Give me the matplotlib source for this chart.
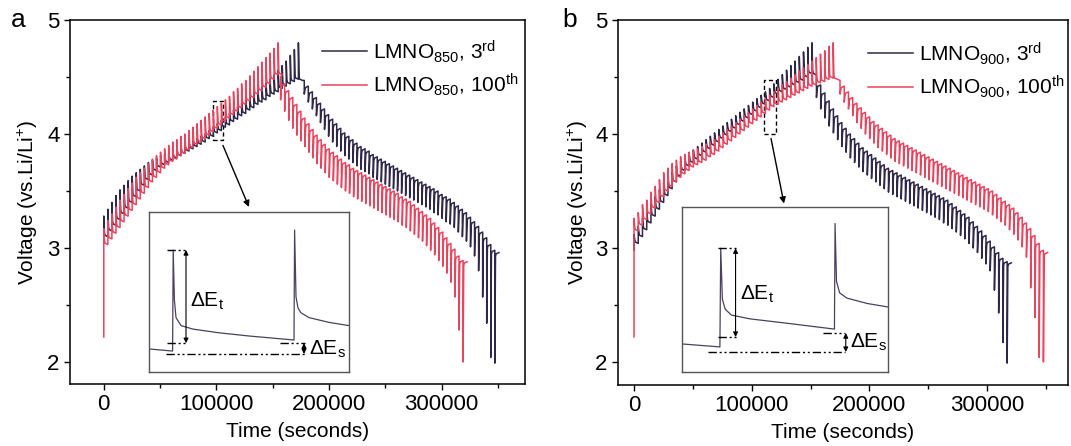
import matplotlib
matplotlib.use('Agg')
import matplotlib.pyplot as plt
from matplotlib.ticker import MultipleLocator
from matplotlib.patches import Rectangle
from matplotlib.lines import Line2D

plt.rcParams['font.family'] = ['Liberation Sans', 'DejaVu Sans']
plt.rcParams['mathtext.fontset'] = 'custom'
plt.rcParams['mathtext.rm'] = 'Liberation Sans'
plt.rcParams['mathtext.it'] = 'Liberation Sans:italic'
plt.rcParams['mathtext.bf'] = 'Liberation Sans:bold'

# ---------------- data ----------------
PERIOD = 3600      # s between GITT pulses
PULSE = 600        # s current pulse

# Panel a : LMNO850, 3rd cycle
a3_ch_start = 0
a3_ch_base = [3.05, 3.10, 3.15, 3.20, 3.25, 3.30, 3.35, 3.40, 3.45, 3.50, 3.55, 3.60, 3.64, 3.68, 3.71, 3.73,
              3.75, 3.77, 3.79, 3.81, 3.83, 3.85, 3.87, 3.89, 3.91, 3.93, 3.96, 3.98, 4.01, 4.03, 4.06, 4.08,
              4.11, 4.13, 4.16, 4.18, 4.21, 4.23, 4.26, 4.28, 4.30, 4.33, 4.35, 4.37, 4.40, 4.42, 4.44, 4.46, 4.48]
a3_ch_peak = [3.28, 3.34, 3.40, 3.46, 3.51, 3.55, 3.59, 3.63, 3.66, 3.69, 3.72, 3.75, 3.77, 3.79, 3.81, 3.82,
              3.83, 3.85, 3.86, 3.88, 3.90, 3.92, 3.94, 3.96, 3.98, 4.00, 4.03, 4.06, 4.09, 4.12, 4.15, 4.18,
              4.21, 4.24, 4.27, 4.30, 4.33, 4.36, 4.39, 4.42, 4.45, 4.48, 4.52, 4.56, 4.60, 4.64, 4.69, 4.74, 4.80]
a3_ch_end = 4.47
a3_dc_start = 178000
a3_dc_base = [4.47, 4.42, 4.37, 4.32, 4.27, 4.22, 4.17, 4.13, 4.09, 4.05, 4.01, 3.98, 3.95, 3.92, 3.89, 3.87,
              3.85, 3.82, 3.80, 3.78, 3.76, 3.74, 3.72, 3.70, 3.68, 3.66, 3.64, 3.62, 3.60, 3.58, 3.56, 3.54,
              3.52, 3.50, 3.47, 3.45, 3.43, 3.40, 3.37, 3.34, 3.31, 3.27, 3.23, 3.19, 3.14, 3.09, 3.03, 2.98]
a3_dc_dip = [4.35, 4.28, 4.22, 4.16, 4.10, 4.04, 3.98, 3.93, 3.89, 3.85, 3.81, 3.78, 3.75, 3.72, 3.69, 3.67,
             3.65, 3.62, 3.60, 3.58, 3.56, 3.54, 3.52, 3.50, 3.48, 3.46, 3.44, 3.42, 3.40, 3.38, 3.36, 3.34,
             3.31, 3.29, 3.26, 3.23, 3.21, 3.18, 3.14, 3.10, 3.06, 3.01, 2.93, 2.80, 2.57, 2.34, 2.04, 1.99]
a3_dc_end = 2.96

# Panel a : LMNO850, 100th cycle
a100_v0 = 2.22
a100_ch_start = 0
a100_ch_base = [2.98, 3.03, 3.08, 3.13, 3.18, 3.23, 3.28, 3.33, 3.38, 3.43, 3.48, 3.53, 3.58, 3.62, 3.66, 3.70,
                3.73, 3.76, 3.78, 3.81, 3.83, 3.86, 3.88, 3.91, 3.93, 3.96, 3.99, 4.02, 4.05, 4.08, 4.11, 4.14,
                4.17, 4.20, 4.23, 4.26, 4.29, 4.32, 4.35, 4.38, 4.41, 4.44, 4.48, 4.52]
a100_ch_peak = [3.17, 3.24, 3.30, 3.36, 3.42, 3.47, 3.52, 3.57, 3.62, 3.66, 3.70, 3.74, 3.78, 3.81, 3.84, 3.87,
                3.90, 3.93, 3.95, 3.98, 4.00, 4.03, 4.06, 4.09, 4.12, 4.15, 4.18, 4.21, 4.24, 4.27, 4.30, 4.33,
                4.37, 4.40, 4.44, 4.47, 4.51, 4.55, 4.59, 4.63, 4.67, 4.71, 4.75, 4.80]
a100_ch_end = 4.52
a100_dc_start = 157000
a100_dc_base = [4.50, 4.44, 4.38, 4.32, 4.26, 4.20, 4.14, 4.09, 4.04, 3.99, 3.95, 3.91, 3.87, 3.84, 3.81, 3.78,
                3.75, 3.73, 3.70, 3.68, 3.66, 3.64, 3.62, 3.60, 3.58, 3.56, 3.54, 3.52, 3.50, 3.48, 3.45, 3.43,
                3.41, 3.38, 3.35, 3.32, 3.29, 3.26, 3.22, 3.18, 3.14, 3.09, 3.04, 2.99, 2.93, 2.89]
a100_dc_dip = [4.30, 4.20, 4.12, 4.05, 3.99, 3.94, 3.89, 3.84, 3.79, 3.74, 3.70, 3.66, 3.62, 3.59, 3.56, 3.53,
               3.50, 3.48, 3.45, 3.43, 3.41, 3.39, 3.37, 3.35, 3.33, 3.31, 3.29, 3.27, 3.25, 3.23, 3.20, 3.18,
               3.15, 3.12, 3.09, 3.06, 3.02, 2.98, 2.94, 2.89, 2.84, 2.78, 2.70, 2.57, 2.28, 2.00]
a100_dc_end = 2.88

# Panel b : LMNO900, 3rd cycle
b3_ch_start = 0
b3_ch_base = [2.98, 3.04, 3.10, 3.16, 3.22, 3.28, 3.34, 3.40, 3.46, 3.52, 3.58, 3.63, 3.68, 3.72, 3.75, 3.78,
              3.81, 3.84, 3.87, 3.90, 3.93, 3.96, 3.99, 4.02, 4.05, 4.08, 4.11, 4.14, 4.17, 4.20, 4.23, 4.26,
              4.29, 4.32, 4.35, 4.37, 4.39, 4.41, 4.43, 4.45, 4.47, 4.50, 4.53]
b3_ch_peak = [3.12, 3.19, 3.26, 3.33, 3.39, 3.45, 3.51, 3.57, 3.62, 3.67, 3.72, 3.76, 3.80, 3.83, 3.86, 3.89,
              3.92, 3.95, 3.98, 4.01, 4.04, 4.07, 4.10, 4.13, 4.16, 4.19, 4.22, 4.25, 4.28, 4.31, 4.34, 4.37,
              4.40, 4.44, 4.48, 4.52, 4.56, 4.60, 4.64, 4.68, 4.72, 4.76, 4.80]
b3_ch_end = 4.52
b3_dc_start = 155000
b3_dc_base = [4.50, 4.43, 4.36, 4.29, 4.22, 4.16, 4.10, 4.05, 4.00, 3.96, 3.92, 3.88, 3.85, 3.82, 3.79, 3.76,
              3.73, 3.70, 3.68, 3.66, 3.64, 3.62, 3.60, 3.58, 3.56, 3.54, 3.52, 3.50, 3.48, 3.46, 3.44, 3.42,
              3.39, 3.36, 3.33, 3.30, 3.27, 3.23, 3.19, 3.15, 3.11, 3.06, 3.01, 2.96, 2.91, 2.88]
b3_dc_dip = [4.32, 4.22, 4.14, 4.07, 4.01, 3.95, 3.89, 3.84, 3.79, 3.75, 3.71, 3.67, 3.64, 3.61, 3.58, 3.55,
             3.52, 3.49, 3.47, 3.45, 3.43, 3.41, 3.39, 3.37, 3.35, 3.33, 3.31, 3.29, 3.27, 3.25, 3.22, 3.20,
             3.17, 3.14, 3.11, 3.08, 3.04, 3.00, 2.96, 2.91, 2.86, 2.80, 2.63, 2.43, 2.17, 1.99]
b3_dc_end = 2.87

# Panel b : LMNO900, 100th cycle
b100_v0 = 2.22
b100_ch_start = 0
b100_ch_base = [3.10, 3.15, 3.20, 3.25, 3.30, 3.35, 3.40, 3.45, 3.50, 3.54, 3.58, 3.62, 3.65, 3.68, 3.71, 3.73,
                3.75, 3.77, 3.80, 3.82, 3.85, 3.88, 3.91, 3.94, 3.97, 4.00, 4.03, 4.06, 4.09, 4.12, 4.15, 4.18,
                4.21, 4.24, 4.26, 4.28, 4.30, 4.32, 4.34, 4.36, 4.38, 4.40, 4.42, 4.43, 4.45, 4.46, 4.48, 4.49]
b100_ch_peak = [3.26, 3.31, 3.38, 3.42, 3.49, 3.54, 3.60, 3.66, 3.70, 3.74, 3.77, 3.80, 3.82, 3.84, 3.86, 3.87,
                3.89, 3.91, 3.93, 3.95, 3.98, 4.01, 4.04, 4.07, 4.10, 4.13, 4.16, 4.19, 4.22, 4.25, 4.28, 4.31,
                4.34, 4.37, 4.40, 4.43, 4.46, 4.49, 4.52, 4.55, 4.58, 4.61, 4.64, 4.67, 4.70, 4.73, 4.77, 4.80]
b100_ch_end = 4.48
b100_dc_start = 175000
b100_dc_base = [4.47, 4.42, 4.37, 4.32, 4.27, 4.23, 4.19, 4.15, 4.11, 4.08, 4.05, 4.02, 3.99, 3.96, 3.94, 3.92,
                3.90, 3.88, 3.86, 3.84, 3.82, 3.80, 3.78, 3.76, 3.74, 3.72, 3.70, 3.68, 3.66, 3.64, 3.62, 3.60,
                3.58, 3.56, 3.54, 3.52, 3.50, 3.47, 3.44, 3.41, 3.38, 3.35, 3.31, 3.27, 3.22, 3.17, 3.11, 3.04, 2.98]
b100_dc_dip = [4.35, 4.28, 4.22, 4.16, 4.10, 4.05, 4.00, 3.96, 3.92, 3.88, 3.85, 3.82, 3.79, 3.76, 3.74, 3.72,
               3.70, 3.68, 3.66, 3.64, 3.62, 3.60, 3.58, 3.56, 3.54, 3.52, 3.50, 3.48, 3.46, 3.44, 3.42, 3.40,
               3.38, 3.36, 3.34, 3.32, 3.29, 3.26, 3.23, 3.20, 3.16, 3.12, 3.07, 3.01, 2.92, 2.65, 2.39, 2.04, 2.00]
b100_dc_end = 2.96

# Inset schematic traces (normalised inset units)
inset_a_u = [0.00, 0.118, 0.121, 0.127, 0.135, 0.16, 0.22, 0.35, 0.50, 0.725, 0.728, 0.735, 0.745, 0.76, 0.80, 0.90, 1.00]
inset_a_v = [0.144, 0.131, 0.7625, 0.45, 0.34, 0.29, 0.268, 0.245, 0.225, 0.20, 0.8875, 0.47, 0.40, 0.37, 0.34, 0.31, 0.29]
inset_b_u = [0.00, 0.184, 0.188, 0.196, 0.21, 0.24, 0.33, 0.50, 0.74, 0.743, 0.75, 0.765, 0.80, 0.90, 1.00]
inset_b_v = [0.17, 0.152, 0.75, 0.44, 0.38, 0.345, 0.322, 0.297, 0.26, 0.90, 0.55, 0.48, 0.448, 0.415, 0.394]

labels_a = [r'LMNO$_{850}$, 3$^{\mathrm{rd}}$', r'LMNO$_{850}$, 100$^{\mathrm{th}}$']
labels_b = [r'LMNO$_{900}$, 3$^{\mathrm{rd}}$', r'LMNO$_{900}$, 100$^{\mathrm{th}}$']

C_DARK = '#2f2747'
C_RED = '#e8445e'
C_INSET = '#4a4060'


def gitt(ch_start, ch_base, ch_peak, ch_end, dc_start, dc_base, dc_dip, dc_end, v0=None):
    t, v = [], []
    if v0 is not None:
        t.append(ch_start)
        v.append(v0)
    for start, base, ext, end, sgn in ((ch_start, ch_base, ch_peak, ch_end, 1),
                                       (dc_start, dc_base, dc_dip, dc_end, -1)):
        n = min(len(base), len(ext))
        for k in range(n):
            tk = start + k * PERIOD
            nxt = base[k + 1] if k + 1 < n else end
            t += [tk, tk, tk + PULSE, tk + PULSE + 500, tk + PERIOD - 1]
            v += [base[k], ext[k], nxt + sgn * 0.035, nxt + sgn * 0.012, nxt]
    return t, v


fig = plt.figure(figsize=(10.71, 4.46), dpi=100)

FS = 15
TFS = 16


def style_axes(ax, xlim, ylim):
    ax.set_xlim(*xlim)
    ax.set_ylim(*ylim)
    ax.xaxis.set_major_locator(MultipleLocator(100000))
    ax.xaxis.set_minor_locator(MultipleLocator(50000))
    ax.yaxis.set_major_locator(MultipleLocator(1))
    ax.yaxis.set_minor_locator(MultipleLocator(0.5))
    ax.ticklabel_format(axis='x', style='plain', useOffset=False)
    ax.tick_params(which='major', direction='out', length=4.5, width=1.0, labelsize=TFS, pad=3)
    ax.tick_params(which='minor', direction='out', length=2.6, width=1.0)
    for s in ax.spines.values():
        s.set_linewidth(1.1)
    ax.set_xlabel('Time (seconds)', fontsize=FS)
    ax.set_ylabel(r'Voltage (vs.Li/Li$^{+}$)', fontsize=FS)


def draw_inset(rect, u, v, ann):
    ins = fig.add_axes(rect)
    ins.set_xlim(0, 1)
    ins.set_ylim(0, 1)
    ins.set_xticks([])
    ins.set_yticks([])
    for s in ins.spines.values():
        s.set_color('#555555')
        s.set_linewidth(1.0)
    ins.plot(u, v, color=C_INSET, lw=0.9)
    dd = (0, (6, 2, 1.5, 2, 1.5, 2))
    (tu0, tu1, tv), (lu0, lu1, lv), tx, (ru0, ru1, rv), (gu0, gu1, gv), sx, et, es = ann
    ins.plot([tu0, tu1], [tv, tv], color='black', lw=1.0, ls=dd)
    ins.plot([lu0, lu1], [lv, lv], color='black', lw=1.0, ls=dd)
    ins.plot([ru0, ru1], [rv, rv], color='black', lw=1.0, ls=dd)
    ins.plot([gu0, gu1], [gv, gv], color='black', lw=1.0, ls=dd)
    ap = dict(arrowstyle='<|-|>', lw=0.8, color='black', mutation_scale=7, shrinkA=0, shrinkB=0)
    ins.annotate('', xy=(tx, tv), xytext=(tx, lv), arrowprops=ap)
    ins.annotate('', xy=(sx, rv), xytext=(sx, gv), arrowprops=ap)
    ins.text(et[0], et[1], r'ΔE$_{\mathrm{t}}$', fontsize=FS, ha='left', va='center')
    ins.text(es[0], es[1], r'ΔE$_{\mathrm{s}}$', fontsize=FS, ha='left', va='center')
    return ins


# ---------- panel a ----------
axa = fig.add_axes([70 / 1071, 1 - 384 / 446, 455 / 1071, 364 / 446])
t, v = gitt(a3_ch_start, a3_ch_base, a3_ch_peak, a3_ch_end, a3_dc_start, a3_dc_base, a3_dc_dip, a3_dc_end)
axa.plot(t, v, color=C_DARK, lw=1.1)
t, v = gitt(a100_ch_start, a100_ch_base, a100_ch_peak, a100_ch_end, a100_dc_start, a100_dc_base,
            a100_dc_dip, a100_dc_end, v0=a100_v0)
axa.plot(t, v, color=C_RED, lw=1.1)
style_axes(axa, (-30000, 374000), (1.807, 5.0))
axa.yaxis.set_label_coords(-0.066, 0.5)
axa.xaxis.set_label_coords(0.5, -0.105)
axa.add_patch(Rectangle((96900, 3.95), 8900, 0.34, fill=False, ec='black', lw=1.0, ls=(0, (3, 2))))
axa.annotate('', xy=(128900, 3.36), xytext=(105800, 3.90),
             arrowprops=dict(arrowstyle='-|>', lw=1.0, color='black', mutation_scale=9, shrinkA=0, shrinkB=0))
h = [Line2D([], [], color=C_DARK, lw=1.1), Line2D([], [], color=C_RED, lw=1.1)]
axa.legend(h, labels_a, loc='upper left', bbox_to_anchor=(322 / 1071, 1 - 38 / 446),
           bbox_transform=fig.transFigure, frameon=False, fontsize=FS, handlelength=2.15,
           handletextpad=0.3, labelspacing=0.35, borderpad=0, borderaxespad=0)
draw_inset([149 / 1071, 1 - 372 / 446, 200 / 1071, 160 / 446], inset_a_u, inset_a_v,
           ((0.09, 0.19, 0.7625), (0.09, 0.19, 0.18), 0.185, (0.655, 0.78, 0.18), (0.085, 0.78, 0.1125),
            0.775, (0.205, 0.44), (0.80, 0.14)))

# ---------- panel b ----------
axb = fig.add_axes([618 / 1071, 1 - 385 / 446, 450 / 1071, 365 / 446])
t, v = gitt(b3_ch_start, b3_ch_base, b3_ch_peak, b3_ch_end, b3_dc_start, b3_dc_base, b3_dc_dip, b3_dc_end)
axb.plot(t, v, color=C_DARK, lw=1.1)
t, v = gitt(b100_ch_start, b100_ch_base, b100_ch_peak, b100_ch_end, b100_dc_start, b100_dc_base,
            b100_dc_dip, b100_dc_end, v0=b100_v0)
axb.plot(t, v, color=C_RED, lw=1.1)
style_axes(axb, (-13600, 368700), (1.798, 5.0))
axb.yaxis.set_label_coords(-0.062, 0.5)
axb.xaxis.set_label_coords(0.5, -0.105)
axb.add_patch(Rectangle((110400, 4.0), 10200, 0.47, fill=False, ec='black', lw=1.0, ls=(0, (3, 2))))
axb.annotate('', xy=(127400, 3.39), xytext=(116400, 3.96),
             arrowprops=dict(arrowstyle='-|>', lw=1.0, color='black', mutation_scale=9, shrinkA=0, shrinkB=0))
h = [Line2D([], [], color=C_DARK, lw=1.1), Line2D([], [], color=C_RED, lw=1.1)]
axb.legend(h, labels_b, loc='upper left', bbox_to_anchor=(868 / 1071, 1 - 40 / 446),
           bbox_transform=fig.transFigure, frameon=False, fontsize=FS, handlelength=2.15,
           handletextpad=0.3, labelspacing=0.35, borderpad=0, borderaxespad=0)
draw_inset([682 / 1071, 1 - 372 / 446, 206 / 1071, 165 / 446], inset_b_u, inset_b_v,
           ((0.175, 0.27, 0.75), (0.175, 0.27, 0.212), 0.26, (0.685, 0.79, 0.236), (0.125, 0.79, 0.121),
            0.795, (0.28, 0.47), (0.815, 0.18)))

fig.text(18 / 1071, 1 - 20 / 446, 'a', fontsize=19, ha='center', va='center')
fig.text(570 / 1071, 1 - 20 / 446, 'b', fontsize=19, ha='center', va='center')

fig.savefig('out.png', dpi=100)
